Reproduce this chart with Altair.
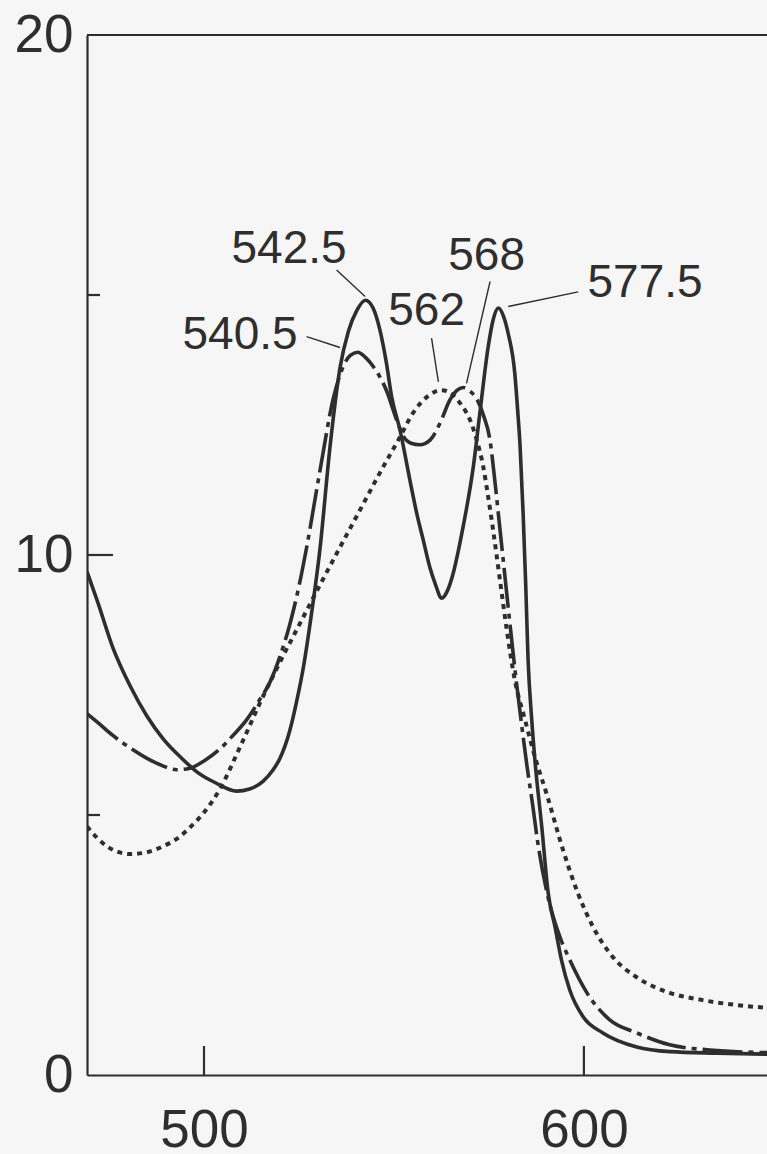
import altair as alt
import pandas as pd

# Absorption spectra: wavelength (nm) against absorbance
solid_nm = [469.2, 472.0, 476.0, 480.5, 485.0, 489.3, 494.0, 498.1, 503.0, 508.6,
            512.0, 515.6, 518.0, 520.0, 522.5, 524.4, 526.3, 527.9, 530.5, 533.2,
            535.8, 538.0, 540.2, 542.5, 544.5, 546.3, 548.0, 549.4, 551.6, 554.2,
            556.0, 557.7, 559.5, 560.8, 562.6, 564.0, 565.6, 567.0, 568.2, 570.9,
            572.6, 574.8, 576.1, 577.5, 578.8, 580.1, 581.8, 582.6, 583.2, 584.0,
            584.7, 585.3, 586.2, 587.1, 588.9, 590.6, 592.4, 594.1, 596.3, 599.8,
            605.0, 613.9, 622.6, 635.0, 648.2]
solid_abs = [9.68, 9.10, 8.22, 7.49, 6.90, 6.46, 6.10, 5.83, 5.62, 5.46,
             5.50, 5.65, 5.85, 6.09, 6.60, 7.19, 7.90, 8.67, 10.10, 12.10,
             13.60, 14.30, 14.70, 14.90, 14.75, 14.33, 13.70, 13.04, 12.40, 11.44,
             10.80, 10.29, 9.75, 9.46, 9.17, 9.30, 9.65, 10.10, 10.54, 11.70,
             12.72, 14.00, 14.52, 14.75, 14.60, 14.25, 13.50, 12.75, 12.10, 10.80,
             9.40, 8.00, 6.90, 6.06, 4.78, 3.50, 2.85, 2.21, 1.63, 1.12,
             0.81, 0.54, 0.45, 0.42, 0.40]

dashdot_nm = [469.2, 472.0, 476.0, 481.0, 485.0, 489.0, 492.8, 496.3, 500.0, 504.2,
              507.5, 511.2, 514.5, 517.4, 520.0, 522.6, 525.0, 527.0, 530.5, 534.0,
              536.5, 538.5, 540.5, 542.5, 544.6, 546.5, 548.1, 550.7, 552.5, 554.5,
              556.8, 559.5, 562.1, 564.7, 566.5, 568.2, 570.0, 571.8, 573.5, 575.3,
              576.6, 577.9, 579.2, 580.5, 582.0, 583.5, 585.0, 586.5, 587.8, 590.3,
              593.7, 596.3, 600.8, 606.8, 613.9, 622.6, 633.2, 648.2]
dashdot_abs = [6.95, 6.78, 6.53, 6.27, 6.09, 5.95, 5.87, 5.90, 6.04, 6.27,
               6.52, 6.83, 7.20, 7.56, 8.05, 8.67, 9.40, 10.14, 11.61, 13.00,
               13.60, 13.84, 13.90, 13.80, 13.62, 13.40, 13.15, 12.60, 12.28, 12.15,
               12.12, 12.21, 12.53, 12.98, 13.16, 13.22, 13.15, 13.00, 12.70, 12.20,
               11.40, 10.50, 9.60, 8.70, 7.70, 6.80, 5.95, 5.20, 4.50, 3.50,
               2.65, 2.21, 1.58, 1.06, 0.81, 0.58, 0.48, 0.43]

dotted_nm = [469.2, 472.0, 474.4, 477.0, 480.5, 484.0, 489.3, 493.0, 496.3, 500.0,
             504.2, 509.5, 514.7, 520.0, 525.3, 530.5, 535.8, 541.1, 546.3, 551.6,
             555.0, 558.7, 562.5, 565.5, 567.6, 570.0, 571.8, 573.5, 574.8, 576.1,
             577.9, 579.7, 581.8, 584.5, 587.1, 590.3, 594.5, 598.4, 602.4, 607.6,
             613.9, 622.6, 631.3, 648.2]
dotted_abs = [4.78, 4.55, 4.40, 4.30, 4.25, 4.27, 4.40, 4.55, 4.76, 5.05,
              5.50, 6.31, 7.15, 7.94, 8.69, 9.42, 10.15, 10.87, 11.58, 12.27,
              12.73, 13.04, 13.17, 13.08, 12.90, 12.60, 12.21, 11.70, 11.12, 10.48,
              9.52, 8.56, 7.60, 6.83, 6.12, 5.38, 4.33, 3.50, 2.85, 2.27,
              1.88, 1.58, 1.44, 1.29]

# Peak annotations and their leader lines
peak_labels = ["542.5", "540.5", "562", "568", "577.5"]
label_nm = [522.4, 509.5, 558.6, 574.4, 616.1]
label_abs = [15.88, 14.23, 14.69, 15.75, 15.23]
leader_nm = [534.9, 527.0, 559.9, 575.3, 598.5]
leader_abs = [15.48, 14.20, 14.17, 15.26, 15.06]
leader_nm_end = [542.4, 535.8, 561.7, 569.1, 580.1]
leader_abs_end = [14.97, 13.99, 13.33, 13.30, 14.78]

y_major = [10]
y_minor = [5, 15]
x_ticks = [500, 600]

INK = "#2e2e2e"
FONT = "Liberation Sans"
W, H = 680, 1040

xs = alt.Scale(domain=[469.2, 648.2], nice=False, zero=False)
ys = alt.Scale(domain=[0, 20], nice=False, zero=True)


def spectrum(nm, ab):
    return pd.DataFrame({"nm": nm, "abs": ab})


x_enc = alt.X("nm:Q", scale=xs,
              axis=alt.Axis(values=x_ticks, title=None, ticks=False, grid=False,
                            domainColor=INK, domainWidth=2.2, labelColor=INK,
                            labelFont=FONT, labelFontSize=53, labelPadding=29,
                            labelOverlap=False, labelFlush=False))
y_enc = alt.Y("abs:Q", scale=ys,
              axis=alt.Axis(values=[0, 10, 20], title=None, ticks=False, grid=False,
                            domainColor=INK, domainWidth=2.2, labelColor=INK,
                            labelFont=FONT, labelFontSize=53, labelPadding=14,
                            labelOverlap=False, labelFlush=False))

solid = alt.Chart(spectrum(solid_nm, solid_abs)).mark_line(
    color=INK, strokeWidth=3.6, interpolate="monotone", clip=True
).encode(x=x_enc, y=y_enc)

dashdot = alt.Chart(spectrum(dashdot_nm, dashdot_abs)).mark_line(
    color=INK, strokeWidth=3.6, interpolate="monotone", clip=True,
    strokeDash=[40, 6, 5, 6]
).encode(x=alt.X("nm:Q", scale=xs), y=alt.Y("abs:Q", scale=ys))

dotted = alt.Chart(spectrum(dotted_nm, dotted_abs)).mark_line(
    color=INK, strokeWidth=4.0, interpolate="monotone", clip=True,
    strokeDash=[5, 5]
).encode(x=alt.X("nm:Q", scale=xs), y=alt.Y("abs:Q", scale=ys))

labels_df = pd.DataFrame({
    "label": peak_labels, "nm": label_nm, "abs": label_abs,
    "nm0": leader_nm, "abs0": leader_abs,
    "nm1": leader_nm_end, "abs1": leader_abs_end,
})

leaders = alt.Chart(labels_df).mark_rule(color=INK, strokeWidth=1.4).encode(
    x=alt.X("nm0:Q", scale=xs), y=alt.Y("abs0:Q", scale=ys),
    x2="nm1:Q", y2="abs1:Q")

texts = alt.Chart(labels_df).mark_text(
    font=FONT, fontSize=46, color=INK, align="center", baseline="middle"
).encode(x=alt.X("nm:Q", scale=xs), y=alt.Y("abs:Q", scale=ys), text="label:N")

# inward-pointing tick marks
ymaj = alt.Chart(pd.DataFrame({"abs": y_major})).mark_rule(
    color=INK, strokeWidth=2.2).encode(
    y=alt.Y("abs:Q", scale=ys), x=alt.value(0), x2=alt.value(26))
ymin = alt.Chart(pd.DataFrame({"abs": y_minor})).mark_rule(
    color=INK, strokeWidth=2.2).encode(
    y=alt.Y("abs:Q", scale=ys), x=alt.value(0), x2=alt.value(13))
xtk = alt.Chart(pd.DataFrame({"nm": x_ticks})).mark_rule(
    color=INK, strokeWidth=2.2).encode(
    x=alt.X("nm:Q", scale=xs), y=alt.value(H), y2=alt.value(H - 29))

# top frame line
top = alt.Chart(pd.DataFrame({"k": [0]})).mark_rule(
    color=INK, strokeWidth=2.2).encode(
    x=alt.value(0), x2=alt.value(W), y=alt.value(0))

chart = alt.layer(
    solid, dashdot, dotted, leaders, texts, ymaj, ymin, xtk, top
).properties(
    width=W, height=H,
    padding={"left": 87, "top": 35, "right": 0, "bottom": 79},
    autosize=alt.AutoSizeParams(type="none"),
    background="#f6f6f6",
).configure_view(stroke=None)

chart.save("out.html", embed_options={"renderer": "svg", "actions": False})
